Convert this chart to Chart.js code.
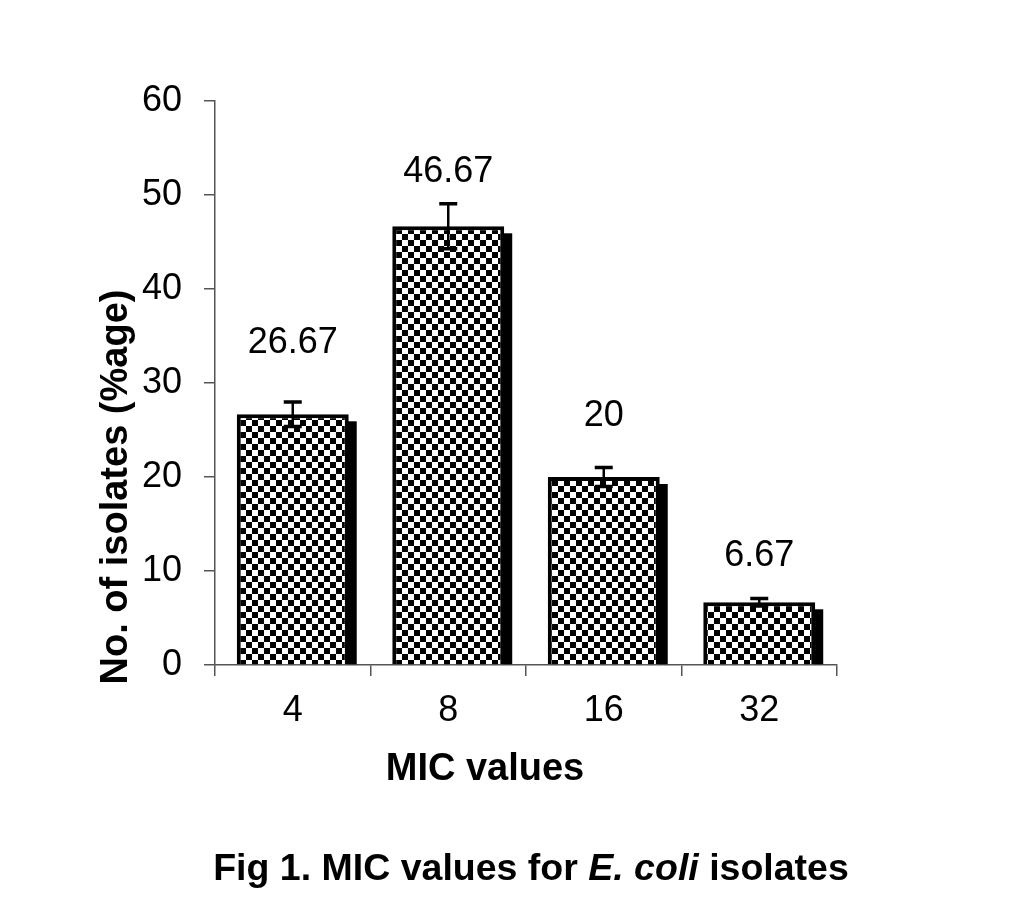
<!DOCTYPE html>
<html>
<head>
<meta charset="utf-8">
<script src="https://cdn.jsdelivr.net/npm/chart.js@4.4.1/dist/chart.umd.min.js"></script>
<style>
  html, body { margin: 0; padding: 0; background: #fff; }
  #wrap { position: relative; width: 1024px; height: 915px; }
  #caption {
    position: absolute; left: 0; width: 1062px; top: 846px;
    text-align: center; font-family: "Liberation Sans", Arial, sans-serif;
    font-weight: bold; font-size: 37.5px; color: #000; white-space: nowrap;
  }
</style>
</head>
<body>
<div id="wrap">
  <canvas id="c" width="1024" height="915"></canvas>
  <div id="caption">Fig 1. MIC values for <i>E. coli</i> isolates</div>
</div>
<script>
// ---- data ----
const categories = ["4", "8", "16", "32"];
const percentValues = [26.67, 46.67, 20, 6.67];
const errorValues = [1.3, 2.4, 1.0, 0.4];
const dataLabels = ["26.67", "46.67", "20", "6.67"];
const yTicks = [0, 10, 20, 30, 40, 50, 60];
const yTitle = "No. of isolates (%age)";
const xTitle = "MIC values";

const FONT = '"Liberation Sans", Arial, sans-serif';
const AXIS_COLOR = '#555555';

// checkerboard pattern
function makePattern(ctx) {
  const s = 6;
  const p = document.createElement('canvas');
  p.width = 2 * s; p.height = 2 * s;
  const pc = p.getContext('2d');
  pc.fillStyle = '#ffffff'; pc.fillRect(0, 0, 2 * s, 2 * s);
  pc.fillStyle = '#000000';
  pc.fillRect(0, 0, s, s);
  pc.fillRect(s, s, s, s);
  return ctx.createPattern(p, 'repeat');
}

const canvas = document.getElementById('c');
const ctx0 = canvas.getContext('2d');
const checker = makePattern(ctx0);

const shadowPlugin = {
  id: 'barShadow',
  beforeDatasetsDraw(chart, args, opts) {
    const ctx = chart.ctx;
    const meta = chart.getDatasetMeta(0);
    ctx.save();
    ctx.fillStyle = '#000';
    meta.data.forEach(bar => {
      const right = bar.x + bar.width / 2;
      ctx.fillRect(right - 1, bar.y + opts.dy, opts.size + 1, bar.base - bar.y - opts.dy);
    });
    ctx.restore();
  }
};

const errorPlugin = {
  id: 'errorBars',
  afterDatasetsDraw(chart, args, opts) {
    const ctx = chart.ctx;
    const y = chart.scales.y;
    const meta = chart.getDatasetMeta(0);
    ctx.save();
    ctx.strokeStyle = '#000';
    meta.data.forEach((bar, i) => {
      const v = percentValues[i], e = errorValues[i];
      const yt = y.getPixelForValue(v + e);
      const yb = y.getPixelForValue(v - e);
      ctx.lineWidth = opts.lineWidth;
      ctx.beginPath();
      ctx.moveTo(bar.x, yt); ctx.lineTo(bar.x, yb);
      ctx.stroke();
      ctx.lineWidth = opts.capWidth;
      ctx.beginPath();
      ctx.moveTo(bar.x - opts.cap / 2, yt); ctx.lineTo(bar.x + opts.cap / 2, yt);
      ctx.moveTo(bar.x - opts.cap / 2, yb); ctx.lineTo(bar.x + opts.cap / 2, yb);
      ctx.stroke();
    });
    ctx.restore();
  }
};

const labelPlugin = {
  id: 'valueLabels',
  afterDatasetsDraw(chart, args, opts) {
    const ctx = chart.ctx;
    const meta = chart.getDatasetMeta(0);
    ctx.save();
    ctx.fillStyle = '#000';
    ctx.font = opts.font;
    ctx.textAlign = 'center';
    ctx.textBaseline = 'alphabetic';
    meta.data.forEach((bar, i) => {
      ctx.fillText(dataLabels[i], bar.x, bar.y - opts.offsets[i]);
    });
    ctx.restore();
  }
};

const titlePlugin = {
  id: 'axisTitles',
  afterDraw(chart, args, opts) {
    const ctx = chart.ctx;
    const ca = chart.chartArea;
    ctx.save();
    ctx.fillStyle = '#000';
    ctx.font = opts.font;
    ctx.textAlign = 'center';
    ctx.textBaseline = 'middle';
    // y title
    ctx.save();
    ctx.translate(ca.left + opts.yTitleDx, ca.bottom + opts.yTitleDy);
    ctx.rotate(-Math.PI / 2);
    ctx.fillText(yTitle, 0, 0);
    ctx.restore();
    // x title
    ctx.textBaseline = 'alphabetic';
    ctx.fillText(xTitle, ca.left + opts.xTitleDx, ca.bottom + opts.xTitleDy);
    ctx.restore();
  }
};

new Chart(canvas, {
  type: 'bar',
  data: {
    labels: categories,
    datasets: [{
      data: percentValues,
      backgroundColor: checker,
      borderColor: '#000',
      borderWidth: 4,
      barPercentage: 0.72,
      categoryPercentage: 1.0
    }]
  },
  options: {
    responsive: false,
    animation: false,
    devicePixelRatio: 1,
    layout: { padding: { left: 0, top: 101, right: 187, bottom: 0 } },
    plugins: {
      legend: { display: false },
      tooltip: { enabled: false },
      barShadow: { dy: 7, size: 8 },
      errorBars: { lineWidth: 2.5, capWidth: 3.5, cap: 18 },
      valueLabels: { font: '36px ' + FONT, offsets: [61, 44, 51, 36] },
      axisTitles: { font: 'bold 38px ' + FONT, yTitleDx: -98, yTitleDy: -178, xTitleDx: 270, xTitleDy: 115 }
    },
    scales: {
      x: {
        type: 'category',
        afterFit(scale) { scale.height = 250; },
        grid: { offset: true, drawOnChartArea: false, tickLength: 11, color: AXIS_COLOR, lineWidth: 1.5 },
        border: { display: true, color: AXIS_COLOR, width: 1.5 },
        ticks: { color: '#000', font: { family: FONT, size: 36 }, padding: 13 }
      },
      y: {
        min: 0, max: 60,
        afterFit(scale) { scale.width = 215; },
        afterBuildTicks(scale) { scale.ticks = yTicks.map(v => ({ value: v })); },
        grid: { drawOnChartArea: false, tickLength: 11, color: AXIS_COLOR, lineWidth: 1.5 },
        border: { display: true, color: AXIS_COLOR, width: 1.5 },
        ticks: { color: '#000', font: { family: FONT, size: 36 }, padding: 22 }
      }
    }
  },
  plugins: [shadowPlugin, errorPlugin, labelPlugin, titlePlugin]
});
</script>
</body>
</html>
